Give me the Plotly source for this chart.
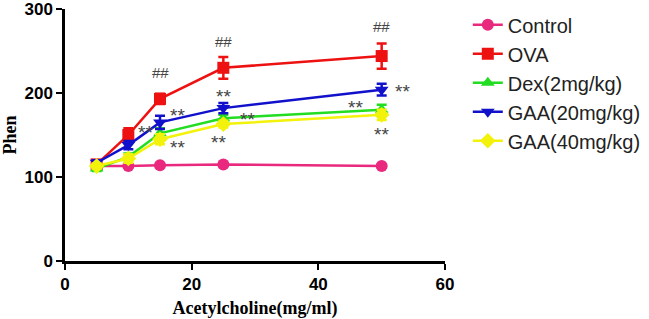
import plotly.graph_objects as go

x_vals = [5, 10, 15, 25, 50]
series_names = ["Control", "OVA", "Dex(2mg/kg)", "GAA(20mg/kg)", "GAA(40mg/kg)"]
control = [113, 113, 114, 115, 113]
ova = [115, 150, 193, 230, 244]
dex = [110, 124, 152, 170, 180]
gaa20 = [117, 138, 165, 182, 204]
gaa40 = [113, 122, 145, 163, 174]
control_err = [2, 2, 2, 2, 2]
ova_err = [3, 8, 6, 13, 15]
dex_err = [3, 4, 6, 4, 6]
gaa20_err = [3, 5, 8, 6, 7]
gaa40_err = [3, 5, 6, 4, 6]

# significance marks (x, y, text)
ann_x = [15, 25, 50, 12.7, 17.7, 17.7, 25, 24.3, 28.8, 45.8, 50, 53.3]
ann_y = [225, 261, 279, 158, 178, 140, 201, 146, 173, 188, 156, 207]
ann_t = ["##", "##", "##", "**", "**", "**", "**", "**", "**", "**", "**", "**"]

colors = ["#E8297E", "#EE1111", "#22DD22", "#1111CC", "#F2F20A"]
symbols = ["circle", "square", "triangle-up", "triangle-down", "diamond"]
values = [control, ova, dex, gaa20, gaa40]
errs = [control_err, ova_err, dex_err, gaa20_err, gaa40_err]

fig = go.Figure()
for name, v, e, c, s in zip(series_names, values, errs, colors, symbols):
    fig.add_trace(go.Scatter(
        x=x_vals, y=v, name=name, mode="lines+markers",
        line=dict(color=c, width=2.5),
        marker=dict(color=c, symbol=s, size=12),
        error_y=dict(type="data", array=e, visible=True, color=c, thickness=2.5, width=5),
    ))

for ax, ay, t in zip(ann_x, ann_y, ann_t):
    is_star = t == "**"
    fig.add_annotation(x=ax, y=ay - (5 if is_star else 0), text=t, showarrow=False,
                       font=dict(family="Arial", size=19 if is_star else 15, color="#444444"))

fig.update_layout(
    width=649, height=319,
    margin=dict(l=65, r=204, t=9, b=58, autoexpand=False),
    plot_bgcolor="white", paper_bgcolor="white",
    showlegend=True,
    legend=dict(x=1.06, y=1.015, xanchor="left", yanchor="top",
                font=dict(family="Arial", size=20, color="#222222"),
                bgcolor="rgba(0,0,0,0)", tracegroupgap=0),
)
fig.update_xaxes(range=[0, 60], tickvals=[0, 20, 40, 60], showgrid=False, zeroline=False,
                 automargin=False,
                 showline=True, linecolor="black", linewidth=2.5,
                 ticks="outside", ticklen=6, tickwidth=2, tickcolor="black",
                 tickfont=dict(family="Arial", size=17, color="black", weight="bold"),
                 title=dict(text="<b>Acetylcholine(mg/ml)</b>", standoff=12,
                            font=dict(family="Times New Roman, Liberation Serif, serif", size=18, color="black")))
fig.update_yaxes(range=[0, 300], tickvals=[0, 100, 200, 300], showgrid=False, zeroline=False,
                 automargin=False, ticklabeloverflow="allow",
                 showline=True, linecolor="black", linewidth=2.5,
                 ticks="outside", ticklen=6, tickwidth=2, tickcolor="black",
                 tickfont=dict(family="Arial", size=17, color="black", weight="bold"),
                 title=dict(text="<b>Phen</b>", standoff=8,
                            font=dict(family="Times New Roman, Liberation Serif, serif", size=18, color="black")))

fig.write_html("out.html", config={"displayModeBar": False},
               post_script="document.body.style.margin='0';document.body.style.overflow='hidden';")
